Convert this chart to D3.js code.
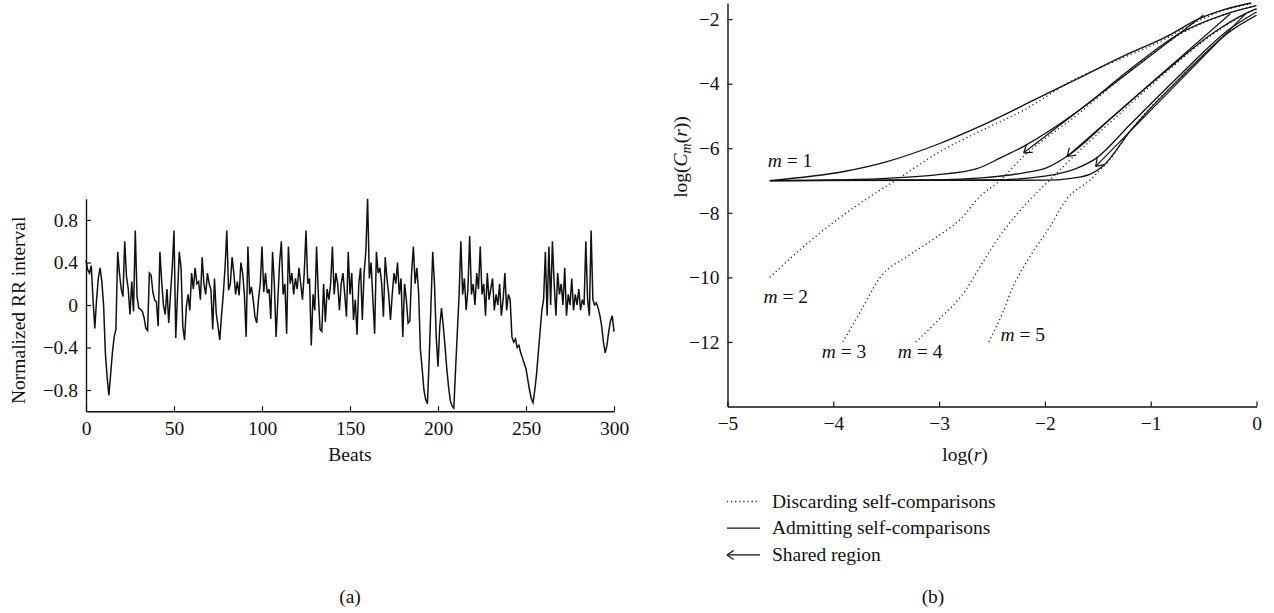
<!DOCTYPE html>
<html>
<head>
<meta charset="utf-8">
<script src="https://cdn.jsdelivr.net/npm/d3@7"></script>
<style>
  body { margin: 0; background: #fff; }
  text { font-family: 'Liberation Serif', 'DejaVu Serif', serif; fill: #111; }
</style>
</head>
<body>
<svg id="chart" width="1274" height="613"></svg>
<script>
/****************************************************************
    Panel (a) data: normalized RR interval, one value per beat
/****************************************************************/
const rrValues = [
  0.42, 0.33, 0.30, 0.37, 0.05, -0.22, 0.05, 0.25, 0.35, 0.22,
  0.0, -0.45, -0.68, -0.85, -0.65, -0.45, -0.3, -0.23, 0.5, 0.3,
  0.15, 0.08, 0.6, 0.27, 0.15, -0.09, 0.22, -0.06, 0.7, 0.08,
  -0.03, -0.04, -0.06, -0.12, -0.22, -0.24, 0.3, 0.28, 0.12, 0.05,
  0.03, -0.2, 0.5, 0.22, 0.0, -0.09, 0.15, -0.17, 0.1, 0.35,
  0.7, -0.31, 0.1, 0.5, 0.35, -0.2, -0.33, -0.02, 0.1, -0.05,
  0.3, 0.15, 0.35, 0.2, 0.22, 0.05, 0.45, 0.2, 0.1, 0.3,
  0.2, 0.14, -0.23, 0.25, -0.08, -0.2, -0.33, -0.1, 0.1, 0.35,
  0.7, 0.14, 0.2, 0.45, 0.3, 0.1, 0.22, 0.09, 0.4, 0.3,
  0.1, -0.3, 0.55, 0.1, 0.17, 0.05, -0.11, -0.17, 0.05, 0.2,
  0.55, 0.12, 0.3, 0.11, 0.15, -0.13, 0.5, 0.2, -0.3, 0.05,
  0.4, 0.6, 0.1, 0.2, -0.27, 0.55, 0.2, 0.3, 0.1, 0.25,
  0.15, 0.35, 0.2, 0.05, 0.3, 0.7, 0.2, 0.25, -0.38, 0.1,
  -0.05, 0.55, 0.1, -0.23, -0.25, 0.2, -0.16, 0.15, 0.05, 0.2,
  0.55, 0.1, 0.3, 0.2, -0.05, 0.2, 0.3, 0.1, -0.11, 0.5,
  0.1, 0.3, -0.14, 0.05, -0.28, 0.2, 0.35, -0.14, 0.3, 0.5,
  1.0, 0.25, 0.4, 0.05, -0.27, 0.5, 0.3, 0.35, 0.2, -0.11,
  0.45, 0.25, 0.1, -0.14, 0.1, 0.3, 0.2, 0.4, 0.1, 0.25,
  -0.3, 0.2, 0.05, -0.17, -0.15, 0.3, 0.55, 0.2, 0.35, 0.11,
  -0.42, -0.6, -0.8, -0.89, -0.93, -0.5, 0.0, 0.5, 0.2, -0.3,
  -0.58, -0.2, -0.03, -0.2, -0.39, -0.6, -0.77, -0.9, -0.95, -0.97,
  -0.6, -0.25, 0.1, 0.6, 0.1, 0.25, -0.05, 0.15, 0.65, 0.1,
  0.2, 0.0, 0.3, 0.15, 0.55, 0.1, 0.2, -0.1, 0.3, 0.05,
  0.15, 0.25, -0.05, 0.1, 0.0, 0.2, -0.1, 0.05, 0.3, -0.05,
  0.1, 0.05, -0.3, -0.35, -0.32, -0.4, -0.38, -0.45, -0.5, -0.55,
  -0.6, -0.7, -0.8, -0.88, -0.92, -0.8, -0.65, -0.45, -0.25, -0.05,
  0.05, 0.5, -0.1, 0.55, 0.0, 0.6, 0.2, -0.1, 0.3, 0.1,
  0.2, 0.0, 0.35, -0.1, 0.1, 0.0, 0.25, -0.05, 0.1, 0.0,
  0.15, -0.05, 0.05, 0.0, 0.6, 0.05, -0.1, 0.7, 0.05, 0.0,
  0.02, -0.03, -0.1, -0.2, -0.35, -0.45, -0.38, -0.25, -0.15, -0.1,
  -0.25
]
const beatTicks = [0, 50, 100, 150, 200, 250, 300]
const rrTicks = [-0.8, -0.4, 0, 0.4, 0.8]

/****************************************************************
    Panel (b) data: [log(r), log(C_m(r))] pairs per curve
/****************************************************************/
const logrTicks = [-5, -4, -3, -2, -1, 0]
const logcTicks = [-12, -10, -8, -6, -4, -2]

const admitM1 = [[-4.6, -7.0], [-3.9, -6.72], [-3.5, -6.42], [-3.0, -5.86], [-2.6, -5.3], [-2.1, -4.5], [-1.65, -3.78], [-1.23, -3.1], [-0.85, -2.54], [-0.55, -2.0], [-0.3, -1.7], [-0.05, -1.5]]
const admitM2 = [[-4.6, -7.0], [-4.0, -6.98], [-3.5, -6.93], [-3.05, -6.83], [-2.65, -6.64], [-2.42, -6.3], [-2.2, -5.94], [-1.67, -4.81], [-1.2, -3.57], [-0.72, -2.43], [-0.3, -1.85], [0, -1.58]]
const admitM3 = [[-4.6, -7.0], [-3.0, -6.98], [-2.6, -6.92], [-2.2, -6.76], [-1.98, -6.6], [-1.79, -6.25], [-1.35, -5.0], [-0.88, -3.67], [-0.41, -2.43], [-0.1, -1.82], [0, -1.68]]
const admitM4 = [[-4.6, -7.0], [-2.5, -6.98], [-2.0, -6.86], [-1.7, -6.62], [-1.52, -6.32], [-1.19, -5.25], [-0.72, -3.72], [-0.25, -2.3], [0, -1.78]]
const admitM5 = [[-4.6, -7.0], [-2.0, -6.99], [-1.75, -6.93], [-1.57, -6.8], [-1.45, -6.55], [-1.19, -5.45], [-0.72, -3.82], [-0.25, -2.38], [0, -1.88]]

const discardM2 = [[-4.6, -10.0], [-4.3, -9.1], [-4.0, -8.3], [-3.7, -7.6], [-3.4, -6.97], [-3.0, -6.12], [-2.6, -5.45], [-2.2, -4.82], [-1.75, -3.92], [-1.3, -3.25], [-0.9, -2.68], [-0.55, -2.05], [-0.3, -1.72], [-0.05, -1.52]]
const discardM3 = [[-3.91, -12.0], [-3.75, -11.1], [-3.55, -9.97], [-3.3, -9.35], [-3.06, -8.83], [-2.8, -8.2], [-2.6, -7.45], [-2.45, -7.07], [-2.2, -6.25], [-1.67, -4.9], [-1.2, -3.62], [-0.72, -2.47], [-0.3, -1.86], [0, -1.58]]
const discardM4 = [[-3.22, -12.0], [-3.0, -11.3], [-2.75, -10.4], [-2.6, -9.6], [-2.4, -8.6], [-2.2, -7.8], [-1.95, -6.97], [-1.79, -6.45], [-1.35, -5.1], [-0.88, -3.72], [-0.41, -2.46], [-0.1, -1.83], [0, -1.68]]
const discardM5 = [[-2.53, -12.0], [-2.4, -11.1], [-2.3, -10.28], [-2.14, -9.35], [-1.95, -8.42], [-1.8, -7.6], [-1.57, -6.97], [-1.4, -6.4], [-1.19, -5.45], [-0.72, -3.82], [-0.25, -2.38], [0, -1.88]]

// shared region arrows: tail [log r, log C] then head [log r, log C]
const sharedArrows = [
  [-0.5, -1.87, -2.2, -6.14],
  [-0.25, -1.84, -1.79, -6.25],
  [-0.1, -1.82, -1.52, -6.56]
]

// curve labels: m and the data point where its text starts
const curveLabels = [
  [1, -4.62, -6.57],
  [2, -4.66, -10.78],
  [3, -4.11, -12.49],
  [4, -3.39, -12.49],
  [5, -2.42, -11.97]
]

const legendItems = ['Discarding self-comparisons', 'Admitting self-comparisons', 'Shared region']

/****************************************************************
    Settings
/****************************************************************/
const settings = {
  fontSize: 19.5,
  lineColor: '#111',
  axisWidth: 1.4,
  tickLen: 5,
  dotDash: '1.1,3'
}

const svg = d3.select('#chart')

function styleAxis(g) {
  g.selectAll('path').attr('stroke', settings.lineColor).attr('stroke-width', settings.axisWidth)
  g.selectAll('line').attr('stroke', settings.lineColor).attr('stroke-width', 1.2)
  g.selectAll('text')
    .style('font-family', "'Liberation Serif', serif")
    .style('font-size', settings.fontSize + 'px')
    .attr('fill', '#111')
}

let fmt = d => d === 0 ? '0' : d3.format('.1f')(d)
let fmtInt = d => d3.format('d')(d)

/****************************************************************
    Panel (a)
/****************************************************************/
function drawPanelA() {
  let x = d3.scaleLinear().domain([0, 300]).range([86, 614])
  let y = d3.scaleLinear().domain([-1, 1]).range([411.25, 198.75])
  let g = svg.append('g')

  g.append('path')
    .datum(rrValues)
    .attr('fill', 'none')
    .attr('stroke', settings.lineColor)
    .attr('stroke-width', 1.5)
    .attr('stroke-linejoin', 'miter')
    .attr('d', d3.line().x((d, i) => x(i)).y(d => y(d)))

  g.append('g')
    .attr('transform', 'translate(0,' + y(-1) + ')')
    .call(d3.axisBottom(x).tickValues(beatTicks).tickFormat(fmtInt)
      .tickSizeInner(-settings.tickLen).tickSizeOuter(0).tickPadding(10))
    .call(styleAxis)

  g.append('g')
    .attr('transform', 'translate(' + x(0) + ',0)')
    .call(d3.axisLeft(y).tickValues(rrTicks).tickFormat(fmt)
      .tickSizeInner(-settings.tickLen).tickSizeOuter(0).tickPadding(8))
    .call(styleAxis)

  g.append('text')
    .attr('transform', 'translate(25,404) rotate(-90)')
    .style('font-size', settings.fontSize + 'px')
    .text('Normalized RR interval')

  g.append('text')
    .attr('x', x(150)).attr('y', 461)
    .attr('text-anchor', 'middle')
    .style('font-size', settings.fontSize + 'px')
    .text('Beats')

  g.append('text')
    .attr('x', x(150)).attr('y', 603)
    .attr('text-anchor', 'middle')
    .style('font-size', settings.fontSize + 'px')
    .text('(a)')
}

/****************************************************************
    Draws an open arrow head at (hx, hy) pointing away from (tx, ty)
/****************************************************************/
function arrowHead(g, tx, ty, hx, hy, len, spread) {
  let ang = Math.atan2(ty - hy, tx - hx)
  ;[ang + spread, ang - spread].forEach(a => {
    g.append('line')
      .attr('x1', hx).attr('y1', hy)
      .attr('x2', hx + len * Math.cos(a)).attr('y2', hy + len * Math.sin(a))
      .attr('stroke', settings.lineColor)
      .attr('stroke-width', 1.2)
  })
}

/****************************************************************
    Panel (b)
/****************************************************************/
function drawPanelB() {
  let x = d3.scaleLinear().domain([-5, 0]).range([727.5, 1256.5])
  let y = d3.scaleLinear().domain([-14, -1.5]).range([406.5, 3])
  let g = svg.append('g')
  let line = d3.line().x(d => x(d[0])).y(d => y(d[1])).curve(d3.curveMonotoneX)

  ;[discardM2, discardM3, discardM4, discardM5].forEach(c => {
    g.append('path')
      .datum(c)
      .attr('fill', 'none')
      .attr('stroke', settings.lineColor)
      .attr('stroke-width', 1.3)
      .attr('stroke-dasharray', settings.dotDash)
      .attr('d', line)
  })

  ;[admitM1, admitM2, admitM3, admitM4, admitM5].forEach(c => {
    g.append('path')
      .datum(c)
      .attr('fill', 'none')
      .attr('stroke', settings.lineColor)
      .attr('stroke-width', 1.3)
      .attr('d', line)
  })

  sharedArrows.forEach(a => {
    let tx = x(a[0]), ty = y(a[1]), hx = x(a[2]), hy = y(a[3])
    g.append('line')
      .attr('x1', tx).attr('y1', ty).attr('x2', hx).attr('y2', hy)
      .attr('stroke', settings.lineColor)
      .attr('stroke-width', 1.2)
    arrowHead(g, tx, ty, hx, hy, 9, 0.6)
  })

  curveLabels.forEach(l => {
    let t = g.append('text')
      .attr('x', x(l[1])).attr('y', y(l[2]))
      .style('font-size', settings.fontSize + 'px')
    t.append('tspan').style('font-style', 'italic').text('m')
    t.append('tspan').text(' = ' + l[0])
  })

  g.append('g')
    .attr('transform', 'translate(0,' + y(-14) + ')')
    .call(d3.axisBottom(x).tickValues(logrTicks).tickFormat(fmtInt)
      .tickSizeInner(-settings.tickLen).tickSizeOuter(0).tickPadding(10))
    .call(styleAxis)

  g.append('g')
    .attr('transform', 'translate(' + x(-5) + ',0)')
    .call(d3.axisLeft(y).tickValues(logcTicks).tickFormat(fmtInt)
      .tickSizeInner(-settings.tickLen).tickSizeOuter(0).tickPadding(8))
    .call(styleAxis)

  // y axis title: log(C_m(r))
  let yt = g.append('text')
    .attr('transform', 'translate(687,157) rotate(-90)')
    .attr('text-anchor', 'middle')
    .style('font-size', settings.fontSize + 'px')
  yt.append('tspan').text('log(')
  yt.append('tspan').style('font-style', 'italic').text('C')
  yt.append('tspan').style('font-style', 'italic').style('font-size', '14px').attr('dy', 4).text('m')
  yt.append('tspan').attr('dy', -4).text('(')
  yt.append('tspan').style('font-style', 'italic').text('r')
  yt.append('tspan').text('))')

  let xt = g.append('text')
    .attr('x', 965).attr('y', 461)
    .attr('text-anchor', 'middle')
    .style('font-size', settings.fontSize + 'px')
  xt.append('tspan').text('log(')
  xt.append('tspan').style('font-style', 'italic').text('r')
  xt.append('tspan').text(')')

  // legend
  let lx0 = 727, lx1 = 760, ly = 501.5, step = 26.7
  legendItems.forEach((label, i) => {
    let yy = ly + i * step
    let seg = g.append('line')
      .attr('x1', lx0).attr('y1', yy).attr('x2', lx1).attr('y2', yy)
      .attr('stroke', settings.lineColor)
      .attr('stroke-width', i === 0 ? 1.3 : 1.2)
    if (i === 0) seg.attr('stroke-dasharray', settings.dotDash)
    if (i === 2) arrowHead(g, lx1, yy, lx0, yy, 8, 0.6)
    g.append('text')
      .attr('x', 772).attr('y', yy + 6)
      .style('font-size', settings.fontSize + 'px')
      .text(label)
  })

  g.append('text')
    .attr('x', 933).attr('y', 603)
    .attr('text-anchor', 'middle')
    .style('font-size', settings.fontSize + 'px')
    .text('(b)')
}

drawPanelA()
drawPanelB()
</script>
</body>
</html>
